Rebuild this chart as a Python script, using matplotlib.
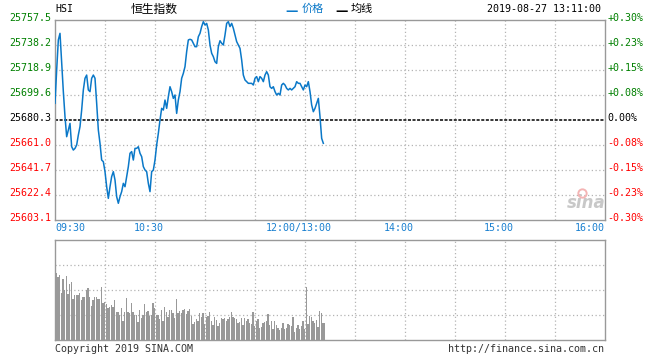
import numpy as np
import matplotlib.pyplot as plt
from matplotlib.transforms import ScaledTranslation

# HSI intraday, 2019-08-27, minute data 09:30 .. 13:11 (lunch break collapsed)
prev_close = 25680.3
price = [
    25693.2, 25718.9, 25742.1, 25747.2, 25724.0, 25702.2, 25682.9, 25667.4, 25672.6, 25677.7,
    25659.7, 25657.1, 25658.4, 25661.0, 25668.7, 25675.2, 25688.0, 25703.5, 25712.5, 25715.0,
    25703.5, 25702.2, 25712.5, 25715.0, 25712.5, 25693.2, 25672.6, 25662.3, 25649.4, 25648.1,
    25640.4, 25628.8, 25619.8, 25628.8, 25636.6, 25640.4, 25634.0, 25621.1, 25616.0, 25621.1,
    25625.0, 25631.4, 25628.8, 25636.6, 25644.3, 25654.6, 25655.9, 25649.4, 25658.4, 25658.4,
    25659.7, 25654.6, 25652.0, 25644.3, 25641.7, 25640.4, 25631.4, 25625.0, 25640.4, 25641.7,
    25649.4, 25661.0, 25670.0, 25680.3, 25689.3, 25688.0, 25695.7, 25689.3, 25698.3, 25706.0,
    25702.2, 25697.0, 25699.6, 25685.4, 25695.7, 25702.2, 25712.5, 25716.3, 25721.5, 25733.1,
    25742.1, 25742.6, 25742.1, 25739.5, 25736.9, 25736.9, 25744.6, 25747.2, 25752.4, 25756.2,
    25753.6, 25754.9, 25749.8, 25738.2, 25731.8, 25729.2, 25725.3, 25724.0, 25736.9, 25741.5,
    25739.5, 25738.2, 25745.9, 25754.9, 25756.2, 25752.4, 25754.9, 25751.1, 25745.9, 25740.8,
    25738.2, 25735.6, 25726.6, 25715.0, 25711.2, 25709.9, 25708.6, 25708.6, 25708.6, 25707.3,
    25712.5, 25713.8, 25709.9, 25713.8, 25712.5, 25709.9, 25715.0, 25717.6, 25715.0, 25706.0,
    25704.7, 25706.0, 25702.2, 25699.6, 25700.9, 25699.6, 25707.3, 25708.6, 25707.3, 25704.7,
    25703.5, 25704.7, 25703.5, 25704.7, 25706.0, 25709.9, 25708.6, 25708.6, 25706.0, 25703.5,
    25707.3, 25706.0, 25709.9, 25702.2, 25691.9, 25686.7, 25689.3, 25693.2, 25697.0, 25682.9,
    25666.1, 25662.3,
]
volume = [
    66.7, 63.3, 65.0, 47.3, 61.0, 50.0, 64.0, 46.0, 56.0, 58.0,
    41.0, 45.0, 45.0, 45.0, 47.3, 40.0, 43.3, 43.3, 50.0, 52.3,
    43.3, 34.3, 40.0, 43.3, 43.3, 41.0, 41.0, 53.3, 36.7, 38.3,
    35.7, 31.7, 33.3, 35.0, 33.3, 40.0, 28.3, 28.3, 25.0, 31.7,
    19.3, 28.3, 41.7, 28.3, 26.7, 36.7, 28.3, 25.0, 25.0, 18.3,
    30.0, 22.3, 25.0, 36.0, 28.3, 29.3, 24.0, 25.0, 37.3, 31.7,
    25.0, 25.0, 21.0, 30.0, 19.0, 33.3, 28.3, 23.3, 30.0, 30.0,
    26.7, 21.7, 41.0, 26.7, 29.3, 27.3, 30.0, 31.3,
    26.0, 29.0, 31.0, 24.0, 16.0, 18.3, 21.0, 19.0, 26.7, 23.3,
    26.7, 16.0, 23.3, 24.0, 27.7, 19.0, 15.0, 22.7, 20.0, 14.0,
    17.3, 21.7, 21.0, 22.3, 19.3, 20.7, 23.3, 27.7, 22.7, 21.7,
    20.7, 17.3, 18.3, 22.3, 15.0, 21.7, 19.0, 21.0, 16.7, 16.0,
    27.7, 14.0, 19.0, 21.3, 11.7, 12.7, 17.3, 18.3, 19.0, 26.0,
    15.0, 19.0, 10.7, 19.0, 15.0, 12.3, 10.0, 12.3, 16.7, 10.7,
    11.7, 15.7, 15.0, 14.0, 22.7, 7.7, 11.7, 14.7, 11.0, 14.0,
    19.0, 10.7, 53.3, 16.0, 24.0, 22.7, 19.0, 17.3, 20.0, 12.7,
    29.3, 26.7, 16.7, 17.3,
]
price_ticks = [25757.5, 25738.2, 25718.9, 25699.6, 25680.3, 25661.0, 25641.7, 25622.4, 25603.1]
pct_labels = ['+0.30%', '+0.23%', '+0.15%', '+0.08%', '0.00%', '-0.08%', '-0.15%', '-0.23%', '-0.30%']
time_ticks = [0, 60, 150, 210, 270, 330]
time_labels = ['09:30', '10:30', '12:00/13:00', '14:00', '15:00', '16:00']

mono = 'DejaVu Sans Mono'
cjk = ['Noto Sans CJK SC', 'DejaVu Sans']
line_blue = '#0a78c8'
tick_blue = '#1a80d0'
grid_kw = dict(color='#b4b4b4', ls=(0, (1, 2)), lw=0.9)

W, H = 660, 360
fig = plt.figure(figsize=(6.6, 3.6), dpi=100)
ax = fig.add_axes([55 / W, 1 - 220 / H, 550 / W, 200 / H])
axv = fig.add_axes([55 / W, 1 - 340 / H, 550 / W, 100 / H])

# price panel
x = np.arange(len(price))
ax.set_xlim(0, 330)
ax.set_ylim(price_ticks[-1], price_ticks[0])
for v in price_ticks[1:-1]:
    if v != prev_close:
        ax.axhline(v, **grid_kw, zorder=1)
for t in range(30, 330, 30):
    ax.axvline(t, **grid_kw, zorder=1)
ax.axhline(prev_close, color='black', ls=(0, (2, 1)), lw=1.1, zorder=2)
ax.plot(x, price, color=line_blue, lw=1.1, zorder=3)

for sp in ax.spines.values():
    sp.set_color('#999999')
    sp.set_linewidth(1.0)

ax.set_yticks(price_ticks)
ax.set_yticklabels([f'{v:.1f}' for v in price_ticks], family=mono, fontsize=7.2)
ax.tick_params(axis='y', length=0, pad=2.5)
for lab, v in zip(ax.get_yticklabels(), price_ticks):
    lab.set_color('#008000' if v > prev_close else ('#ff0000' if v < prev_close else 'black'))

ax2 = ax.twinx()
ax2.set_ylim(ax.get_ylim())
ax2.set_yticks(price_ticks)
ax2.set_yticklabels(pct_labels, family=mono, fontsize=7.2)
ax2.tick_params(axis='y', length=0, pad=1.5)
for lab, v in zip(ax2.get_yticklabels(), price_ticks):
    lab.set_color('#008000' if v > prev_close else ('#ff0000' if v < prev_close else 'black'))
for sp in ax2.spines.values():
    sp.set_visible(False)

up = ScaledTranslation(0, 3 / 100, fig.dpi_scale_trans)
for lab in ax.get_yticklabels() + ax2.get_yticklabels():
    lab.set_transform(lab.get_transform() + up)

ax.set_xticks(time_ticks)
ax.set_xticklabels(time_labels, family=mono, fontsize=7.2, color=tick_blue)
ax.tick_params(axis='x', length=0, pad=2.5)
left = ScaledTranslation(-6 / 100, 0, fig.dpi_scale_trans)
xl = ax.get_xticklabels()
xl[0].set_ha('left')
xl[-1].set_ha('right')
for lab in xl[1:-1]:
    lab.set_transform(lab.get_transform() + left)

# sina watermark
ax.text(0.965, 0.085, 'sina', transform=ax.transAxes, ha='center', va='center',
        fontsize=12, style='italic', fontweight='bold', color='#c8c8c8', zorder=2)
ax.plot([0.958], [0.135], transform=ax.transAxes, marker='o', ms=6, mfc='none',
        mec='#f4b4b4', mew=1.4, zorder=2)

# volume panel
axv.bar(x + 0.8, volume, width=0.7, color='#999999', zorder=3)
axv.set_xlim(0, 330)
axv.set_ylim(0, 100)
for v in (25, 50, 75):
    axv.axhline(v, **grid_kw, zorder=1)
for t in range(30, 330, 30):
    axv.axvline(t, **grid_kw, zorder=1)
axv.set_xticks([])
axv.set_yticks([])
for sp in axv.spines.values():
    sp.set_color('#999999')
    sp.set_linewidth(1.0)

# header
fig.text(55 / W, 1 - 9 / H, 'HSI', family=mono, fontsize=7.2, va='center', ha='left')
fig.text(154 / W, 1 - 9 / H, '恒生指数', family=cjk, fontsize=8.5, va='center', ha='center')
fig.text(285 / W, 1 - 11 / H, '\u2014', family='DejaVu Sans', fontsize=9, fontweight='bold',
         color=line_blue, va='center', ha='left')
fig.text(302 / W, 1 - 9 / H, '价格', family=cjk, fontsize=8, va='center', ha='left', color=line_blue)
fig.text(335 / W, 1 - 11 / H, '\u2014', family='DejaVu Sans', fontsize=9, fontweight='bold',
         color='black', va='center', ha='left')
fig.text(351 / W, 1 - 9 / H, '均线', family=cjk, fontsize=8, va='center', ha='left')
fig.text(601 / W, 1 - 9 / H, '2019-08-27 13:11:00', family=mono, fontsize=7.2, va='center', ha='right')

# footer
fig.text(55 / W, 1 - 349 / H, 'Copyright 2019 SINA.COM', family=mono, fontsize=7.2,
         va='center', ha='left', color='#333333')
fig.text(604 / W, 1 - 349 / H, 'http://finance.sina.com.cn', family=mono, fontsize=7.2,
         va='center', ha='right', color='#333333')

fig.savefig('out.png', dpi=100)
